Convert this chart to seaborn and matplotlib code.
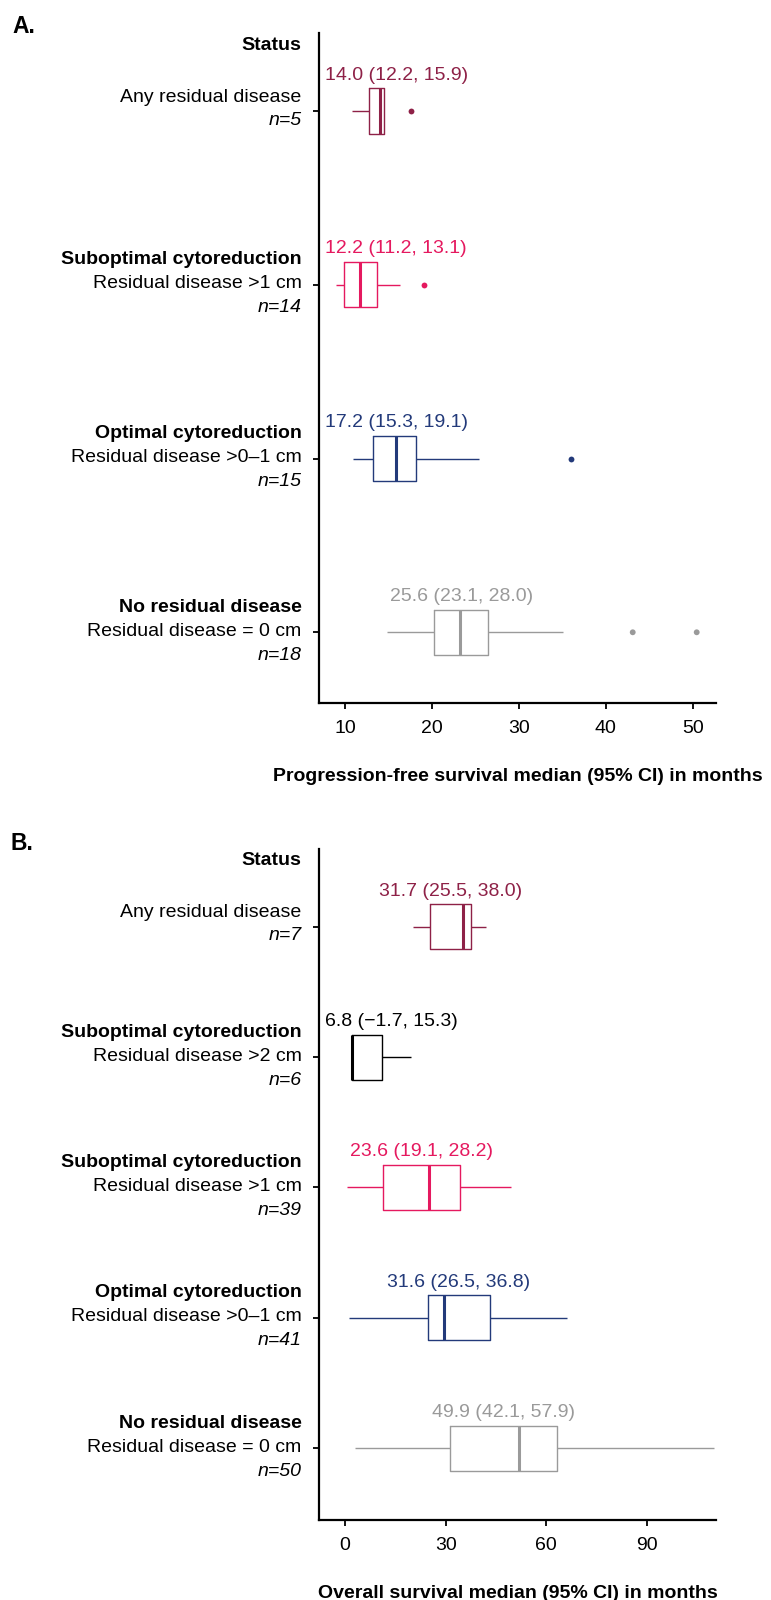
import matplotlib
matplotlib.use("Agg")
import matplotlib.pyplot as plt
import pandas as pd
import seaborn as sns

sns.set_style("white")
plt.rcParams['font.family'] = ['Liberation Sans', 'DejaVu Sans']
plt.rcParams['text.color'] = 'black'
plt.rcParams['axes.labelcolor'] = 'black'
plt.rcParams['xtick.color'] = 'black'
plt.rcParams['ytick.color'] = 'black'

# ---- Panel A: progression-free survival (box summaries)
pfs_groups = ["any", "sub1", "opt", "none"]
pfs_low = [10.84, 8.93, 10.95, 14.80]
pfs_q1 = [12.80, 9.92, 13.26, 20.27]
pfs_med = [14.03, 11.73, 15.87, 23.26]
pfs_q3 = [14.49, 13.65, 18.13, 26.49]
pfs_high = [14.49, 16.33, 25.42, 35.04]
pfs_out_group = ["any", "sub1", "opt", "none", "none"]
pfs_out_value = [17.56, 19.09, 35.97, 43.10, 50.46]
pfs_text = ["14.0 (12.2, 15.9)", "12.2 (11.2, 13.1)", "17.2 (15.3, 19.1)", "25.6 (23.1, 28.0)"]
pfs_n = [5, 14, 15, 18]

# ---- Panel B: overall survival
os_groups = ["any", "sub2", "sub1", "opt", "none"]
os_low = [20.2, 2.2, 0.7, 1.3, 3.1]
os_q1 = [25.3, 2.2, 11.4, 24.8, 31.3]
os_med = [35.3, 2.2, 25.0, 29.4, 51.9]
os_q3 = [37.5, 11.1, 34.4, 43.1, 63.3]
os_high = [41.9, 19.7, 49.4, 66.1, 109.9]
os_out_group = []
os_out_value = []
os_text = ["31.7 (25.5, 38.0)", "6.8 (\u22121.7, 15.3)", "23.6 (19.1, 28.2)", "31.6 (26.5, 36.8)", "49.9 (42.1, 57.9)"]
os_n = [7, 6, 39, 41, 50]

group_title = {"any": None, "sub2": "Suboptimal cytoreduction", "sub1": "Suboptimal cytoreduction",
               "opt": "Optimal cytoreduction", "none": "No residual disease"}
group_desc = {"any": "Any residual disease", "sub2": "Residual disease >2 cm", "sub1": "Residual disease >1 cm",
              "opt": "Residual disease >0\u20131 cm", "none": "Residual disease = 0 cm"}
colors = {"any": "#8E2147", "sub2": "#000000", "sub1": "#E5195F", "opt": "#233A7A", "none": "#9A9A9A"}

FS = 14


def panel(ax, groups, low, q1, med, q3, high, out_group, out_value, texts, ns,
          width, xlim, ylim, xticks, xlabel):
    rows = []
    for g, a, b, c, d, e in zip(groups, low, q1, med, q3, high):
        for v in (a, b, c, d, e):
            rows.append((g, v))
    df = pd.DataFrame(rows, columns=["group", "months"])
    sns.boxplot(data=df, x="months", y="group", hue="group", order=groups, hue_order=groups,
                palette=colors, saturation=1, fill=False, whis=(0, 100), width=width,
                linewidth=1, medianprops=dict(linewidth=2.2), showfliers=False,
                showcaps=False, legend=False, ax=ax)
    if out_value:
        sns.stripplot(x=out_value, y=out_group, order=groups, hue=out_group, hue_order=groups,
                      palette=colors, jitter=False, size=4.2, linewidth=0, legend=False, ax=ax)

    ax.set_xlim(*xlim)
    ax.set_ylim(*ylim)
    ax.set_xticks(xticks)
    ax.set_xticklabels([str(t) for t in xticks], fontsize=FS)
    ax.set_yticks(range(len(groups)))
    ax.set_yticklabels([""] * len(groups))
    ax.set_ylabel("")
    ax.set_xlabel(xlabel, fontsize=FS, fontweight="bold", labelpad=22)
    ax.tick_params(axis="both", length=4.5, width=1.3, color="black", direction="out",
                   bottom=True, left=True, pad=8)
    for s in ["top", "right"]:
        ax.spines[s].set_visible(False)
    for s in ["left", "bottom"]:
        ax.spines[s].set_color("black")
        ax.spines[s].set_linewidth(1.6)

    # category labels on the left
    ytr = ax.get_yaxis_transform()
    for i, g in enumerate(groups):
        kw = dict(xycoords=ytr, textcoords="offset points", ha="right", va="center", fontsize=FS)
        if group_title[g] is None:
            ax.annotate(group_desc[g], xy=(0, i), xytext=(-12.5, 10), **kw)
            ax.annotate("n=%d" % ns[i], xy=(0, i), xytext=(-12.5, -6.5), style="italic", **kw)
        else:
            ax.annotate(group_title[g], xy=(0, i), xytext=(-12.5, 18), fontweight="bold", **kw)
            ax.annotate(group_desc[g], xy=(0, i), xytext=(-12.5, 0.7), **kw)
            ax.annotate("n=%d" % ns[i], xy=(0, i), xytext=(-12.5, -16.6), style="italic", **kw)
    ax.annotate("Status", xy=(0, 0), xycoords=ytr, xytext=(-12.5, 47.5), textcoords="offset points",
                ha="right", va="center", fontsize=FS, fontweight="bold")

    # median (95% CI) labels above boxes
    labels = []
    for i, g in enumerate(groups):
        cx = (q1[i] + q3[i]) / 2
        t = ax.annotate(texts[i], xy=(cx, i - width / 2), xytext=(0, 9.5), textcoords="offset points",
                        ha="center", va="center", fontsize=FS, color=colors[g])
        labels.append(t)
    return labels


fig = plt.figure(figsize=(7.71, 16), dpi=100)
axA = fig.add_axes([319 / 771, 1 - 703 / 1600, 397 / 771, 670 / 1600])
axB = fig.add_axes([319 / 771, 1 - 1520 / 1600, 397 / 771, 671 / 1600])

labA = panel(axA, pfs_groups, pfs_low, pfs_q1, pfs_med, pfs_q3, pfs_high, pfs_out_group, pfs_out_value,
             pfs_text, pfs_n, 0.26, (7.01, 52.68), (3.407, -0.449), [10, 20, 30, 40, 50],
             "Progression-free survival median (95% CI) in months")
labB = panel(axB, os_groups, os_low, os_q1, os_med, os_q3, os_high, os_out_group, os_out_value,
             os_text, os_n, 0.345, (-7.75, 110.56), (4.55, -0.596), [0, 30, 60, 90],
             "Overall survival median (95% CI) in months")

# keep labels from running past the left axis line
fig.canvas.draw()
renderer = fig.canvas.get_renderer()
for ax, labs in ((axA, labA), (axB, labB)):
    left_px = ax.get_window_extent(renderer).x0 + 6
    for t in labs:
        bb = t.get_window_extent(renderer)
        if bb.x0 < left_px:
            newx = ax.transData.inverted().transform((left_px + bb.width / 2, 0))[0]
            t.xy = (newx, t.xy[1])

fig.text(12 / 771, 1 - 33 / 1600, "A.", fontsize=16.5, fontweight="bold", va="baseline")
fig.text(10 / 771, 1 - 850 / 1600, "B.", fontsize=16.5, fontweight="bold", va="baseline")

fig.savefig("out.png", dpi=100)
